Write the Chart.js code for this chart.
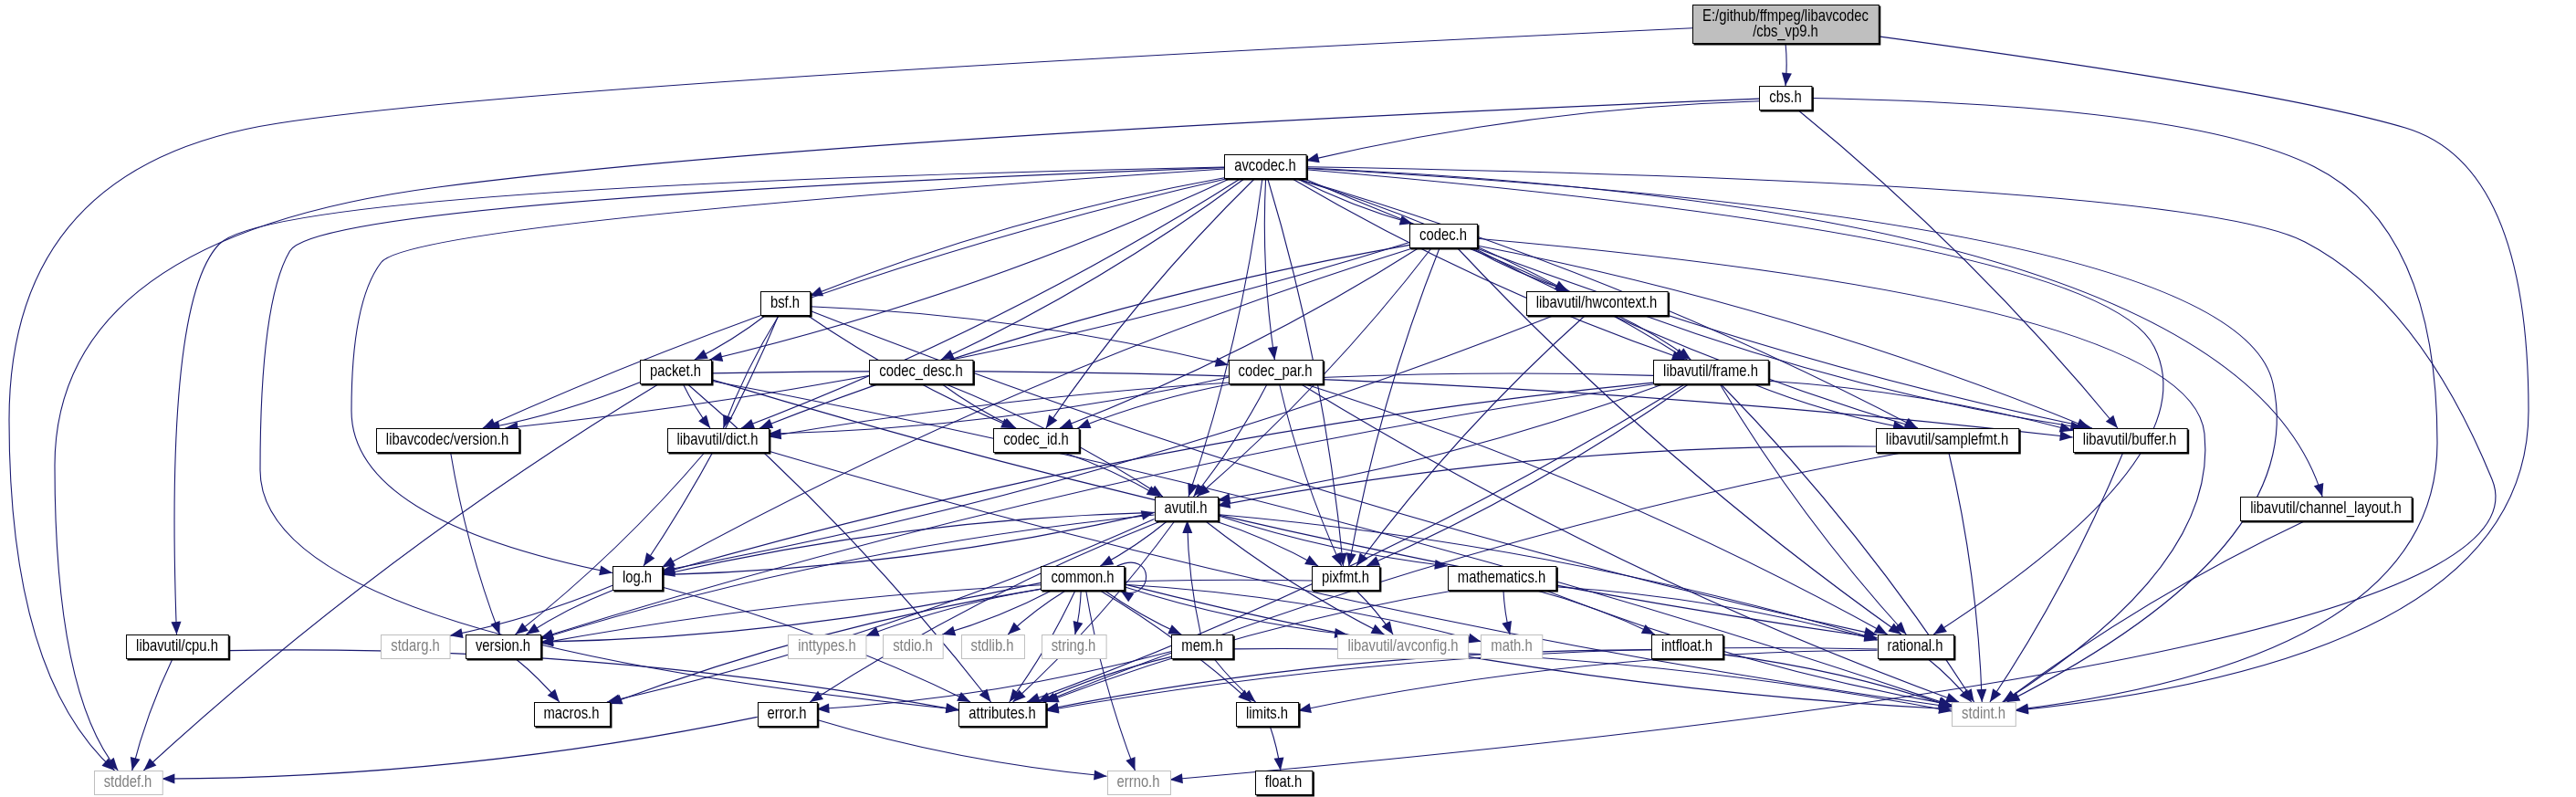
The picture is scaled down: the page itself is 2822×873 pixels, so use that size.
<!DOCTYPE html>
<html>
<head>
<meta charset="utf-8">
<script src="https://cdn.jsdelivr.net/npm/chart.js@4.4.1/dist/chart.umd.min.js"></script>
<style>
  html, body { margin: 0; padding: 0; background: #fff; }
  #graph { display: block; }
</style>
</head>
<body>
<canvas id="graph" width="2822" height="873"></canvas>
<script>
// ── Graph data ───────────────────────────────────────────
const ROOT = 'E:/github/ffmpeg/libavcodec\n/cbs_vp9.h';
const nodeNames = [
  ROOT, 'cbs.h', 'avcodec.h', 'codec.h', 'bsf.h',
  'libavutil/hwcontext.h', 'packet.h', 'codec_desc.h', 'codec_par.h', 'libavutil/frame.h',
  'libavcodec/version.h', 'libavutil/dict.h', 'codec_id.h', 'libavutil/samplefmt.h', 'libavutil/buffer.h',
  'avutil.h', 'libavutil/channel_layout.h', 'log.h', 'common.h', 'pixfmt.h',
  'mathematics.h', 'stdarg.h', 'version.h', 'libavutil/cpu.h', 'inttypes.h',
  'stdio.h', 'stdlib.h', 'string.h', 'mem.h', 'libavutil/avconfig.h',
  'math.h', 'intfloat.h', 'rational.h', 'macros.h', 'error.h',
  'attributes.h', 'limits.h', 'stdint.h', 'stddef.h', 'errno.h', 'float.h'
];
const nodeX = [
  1956, 1956, 1386, 1581, 860,
  1749, 740, 1009, 1397, 1874,
  490, 786, 1135, 2133, 2333,
  1299, 2548, 698, 1186, 1474,
  1645, 455, 551, 194, 906,
  1000, 1087, 1176, 1317, 1537,
  1656, 1848, 2098, 626, 862,
  1098, 1388, 2173, 140, 1247, 1406
];
const nodeY = [
  26, 107, 182, 258, 332,
  332, 407, 407, 407, 407,
  482, 482, 482, 482, 482,
  557, 557, 633, 633, 633,
  633, 708, 708, 708, 708,
  708, 708, 708, 708, 708,
  708, 708, 708, 782, 782,
  782, 782, 782, 857, 857, 857
];
const externalNodes = ['stdarg.h', 'inttypes.h', 'stdio.h', 'stdlib.h', 'string.h',
  'libavutil/avconfig.h', 'math.h', 'stdint.h', 'stddef.h', 'errno.h'];

const edgeFrom = [
  ROOT, ROOT, ROOT,
  'cbs.h', 'cbs.h', 'cbs.h', 'cbs.h',
  'avcodec.h', 'avcodec.h', 'avcodec.h', 'avcodec.h', 'avcodec.h', 'avcodec.h', 'avcodec.h', 'avcodec.h',
  'avcodec.h', 'avcodec.h', 'avcodec.h', 'avcodec.h', 'avcodec.h', 'avcodec.h', 'avcodec.h', 'avcodec.h',
  'avcodec.h', 'avcodec.h', 'avcodec.h', 'avcodec.h', 'avcodec.h',
  'codec.h', 'codec.h', 'codec.h', 'codec.h', 'codec.h', 'codec.h', 'codec.h', 'codec.h', 'codec.h', 'codec.h', 'codec.h', 'codec.h',
  'bsf.h', 'bsf.h', 'bsf.h', 'bsf.h', 'bsf.h', 'bsf.h',
  'libavutil/hwcontext.h', 'libavutil/hwcontext.h', 'libavutil/hwcontext.h', 'libavutil/hwcontext.h',
  'packet.h', 'packet.h', 'packet.h', 'packet.h', 'packet.h', 'packet.h', 'packet.h',
  'codec_desc.h', 'codec_desc.h',
  'codec_par.h', 'codec_par.h', 'codec_par.h', 'codec_par.h', 'codec_par.h', 'codec_par.h',
  'libavutil/frame.h', 'libavutil/frame.h', 'libavutil/frame.h', 'libavutil/frame.h', 'libavutil/frame.h',
  'libavutil/frame.h', 'libavutil/frame.h', 'libavutil/frame.h', 'libavutil/frame.h', 'libavutil/frame.h',
  'libavcodec/version.h', 'libavutil/dict.h', 'libavutil/dict.h', 'codec_id.h',
  'libavutil/samplefmt.h', 'libavutil/samplefmt.h', 'libavutil/samplefmt.h',
  'libavutil/buffer.h', 'libavutil/channel_layout.h',
  'avutil.h', 'avutil.h', 'avutil.h', 'avutil.h', 'avutil.h', 'avutil.h', 'avutil.h', 'avutil.h', 'avutil.h', 'avutil.h',
  'log.h', 'log.h', 'log.h', 'log.h',
  'common.h', 'common.h', 'common.h', 'common.h', 'common.h', 'common.h', 'common.h', 'common.h',
  'common.h', 'common.h', 'common.h', 'common.h', 'common.h', 'common.h',
  'mem.h', 'mem.h', 'mem.h', 'mem.h', 'mem.h',
  'pixfmt.h', 'pixfmt.h',
  'mathematics.h', 'mathematics.h', 'mathematics.h', 'mathematics.h', 'mathematics.h',
  'version.h', 'libavutil/cpu.h', 'libavutil/cpu.h', 'intfloat.h', 'intfloat.h',
  'rational.h', 'rational.h', 'rational.h', 'error.h', 'error.h', 'limits.h'
];
const edgeTo = [
  'cbs.h', 'stddef.h', 'stdint.h',
  'avcodec.h', 'stddef.h', 'stdint.h', 'libavutil/buffer.h',
  'errno.h', 'libavutil/channel_layout.h', 'attributes.h', 'libavutil/cpu.h', 'log.h', 'packet.h', 'bsf.h', 'libavutil/dict.h',
  'libavcodec/version.h', 'codec_desc.h', 'codec_id.h', 'avutil.h', 'codec_par.h', 'pixfmt.h', 'codec.h', 'libavutil/hwcontext.h',
  'libavutil/frame.h', 'libavutil/samplefmt.h', 'libavutil/buffer.h', 'rational.h', 'stdint.h',
  'libavcodec/version.h', 'log.h', 'avutil.h', 'pixfmt.h', 'codec_id.h', 'libavutil/hwcontext.h', 'libavutil/frame.h',
  'libavutil/samplefmt.h', 'libavutil/buffer.h', 'rational.h', 'stdint.h', 'libavutil/dict.h',
  'packet.h', 'libavutil/dict.h', 'log.h', 'codec_id.h', 'codec_par.h', 'rational.h',
  'libavutil/frame.h', 'libavutil/buffer.h', 'log.h', 'pixfmt.h',
  'libavcodec/version.h', 'libavutil/dict.h', 'attributes.h', 'stddef.h', 'libavutil/buffer.h', 'rational.h', 'stdint.h',
  'codec_id.h', 'avutil.h',
  'codec_id.h', 'avutil.h', 'pixfmt.h', 'rational.h', 'stdint.h', 'libavutil/dict.h',
  'libavutil/dict.h', 'avutil.h', 'log.h', 'pixfmt.h', 'libavutil/samplefmt.h',
  'libavutil/buffer.h', 'rational.h', 'stdint.h', 'version.h', 'attributes.h',
  'version.h', 'version.h', 'stdint.h', 'avutil.h',
  'avutil.h', 'stdint.h', 'attributes.h',
  'stdint.h', 'stdint.h',
  'common.h', 'log.h', 'pixfmt.h', 'mathematics.h', 'rational.h', 'version.h', 'macros.h', 'error.h', 'attributes.h', 'libavutil/avconfig.h',
  'stdarg.h', 'version.h', 'attributes.h', 'avutil.h',
  'common.h', 'inttypes.h', 'stdio.h', 'stdlib.h', 'string.h', 'mem.h', 'math.h', 'libavutil/avconfig.h',
  'attributes.h', 'macros.h', 'version.h', 'errno.h', 'limits.h', 'stdint.h',
  'avutil.h', 'attributes.h', 'error.h', 'limits.h', 'stdint.h',
  'version.h', 'libavutil/avconfig.h',
  'math.h', 'intfloat.h', 'attributes.h', 'rational.h', 'stdint.h',
  'macros.h', 'stddef.h', 'attributes.h', 'attributes.h', 'stdint.h',
  'attributes.h', 'stdint.h', 'limits.h', 'stddef.h', 'errno.h', 'float.h'
];

// long edges that run round the outside of the graph: edge key -> bend points
const edgeBends = {
  [ROOT + '>stddef.h']: [[600, 90], [10, 180], [10, 740]],
  [ROOT + '>stdint.h']: [[2500, 100], [2770, 180], [2770, 720]],
  'cbs.h>stddef.h': [[900, 150], [60, 260], [60, 760]],
  'cbs.h>stdint.h': [[2400, 115], [2670, 250], [2670, 720]],
  'avcodec.h>errno.h': [[2400, 200], [2650, 330], [2810, 720]],
  'avcodec.h>libavutil/channel_layout.h': [[2450, 230]],
  'avcodec.h>libavutil/cpu.h': [[300, 205], [180, 330]],
  'avcodec.h>attributes.h': [[350, 220], [285, 330], [285, 700]],
  'avcodec.h>log.h': [[450, 245], [385, 330], [385, 570]],
  'avcodec.h>rational.h': [[2300, 260], [2420, 500]],
  'avcodec.h>stdint.h': [[2450, 240], [2530, 600]],
  'codec.h>stdint.h': [[2400, 330], [2430, 620]],
  'libavutil/hwcontext.h>rational.h': [[2250, 390], [2220, 600]]
};

// ── Drawing ──────────────────────────────────────────────
const EDGE_COLOR = '#191970';
const FONT = '19px "Liberation Sans", Arimo, sans-serif';
const SQUEEZE = 0.78;           // narrow text like the Helvetica Narrow original
const BOX_H = 26;

const canvas = document.getElementById('graph');
const ctx0 = canvas.getContext('2d');
const measureCtx = document.createElement('canvas').getContext('2d');
function textWidth(s) {
  measureCtx.font = FONT;
  return measureCtx.measureText(s).width * SQUEEZE;
}
function boxWidth(name) {
  return Math.max(...name.split('\n').map(textWidth)) + 22;
}
function boxHeight(name) {
  return name.split('\n').length > 1 ? 42 : BOX_H;
}

function clipToBox(cx, cy, tx, ty, w, h) {
  const dx = tx - cx, dy = ty - cy;
  if (dx === 0 && dy === 0) return [cx, cy];
  const sx = dx !== 0 ? (w / 2) / Math.abs(dx) : Infinity;
  const sy = dy !== 0 ? (h / 2) / Math.abs(dy) : Infinity;
  const s = Math.min(sx, sy);
  return [cx + dx * s, cy + dy * s];
}

function drawArrow(ctx, fx, fy, tx, ty) {
  const ang = Math.atan2(ty - fy, tx - fx);
  const L = 14, W = 5.5;
  ctx.beginPath();
  ctx.moveTo(tx, ty);
  ctx.lineTo(tx - L * Math.cos(ang) + W * Math.sin(ang), ty - L * Math.sin(ang) - W * Math.cos(ang));
  ctx.lineTo(tx - L * Math.cos(ang) - W * Math.sin(ang), ty - L * Math.sin(ang) + W * Math.cos(ang));
  ctx.closePath();
  ctx.fillStyle = EDGE_COLOR;
  ctx.fill();
}

const graphPlugin = {
  id: 'includeGraph',
  afterDatasetsDraw(chart) {
    const { ctx, scales: { x, y } } = chart;
    const pos = {};
    nodeNames.forEach((n, i) => {
      pos[n] = { px: x.getPixelForValue(nodeX[i]), py: y.getPixelForValue(nodeY[i]),
                 w: boxWidth(n), h: boxHeight(n) };
    });

    ctx.save();
    ctx.strokeStyle = EDGE_COLOR;
    ctx.lineWidth = 1.1;

    edgeFrom.forEach((f, i) => {
      const t = edgeTo[i];
      const a = pos[f], b = pos[t];
      if (!a || !b) return;
      if (f === t) {
        const rx = a.px + a.w / 2;
        ctx.beginPath();
        ctx.moveTo(rx - 8, a.py - a.h / 2);
        ctx.bezierCurveTo(rx + 34, a.py - 32, rx + 34, a.py + 26, rx - 4, a.py + a.h / 2 + 2);
        ctx.stroke();
        drawArrow(ctx, rx + 8, a.py + 22, rx - 4, a.py + a.h / 2 + 1);
        return;
      }
      const bends = (edgeBends[f + '>' + t] || []).map(([bx, by]) =>
        [x.getPixelForValue(bx), y.getPixelForValue(by)]);
      const first = bends.length ? bends[0] : [b.px, b.py];
      const last = bends.length ? bends[bends.length - 1] : [a.px, a.py];
      const [sx, sy] = clipToBox(a.px, a.py, first[0], first[1], a.w, a.h);
      const [ex, ey] = clipToBox(b.px, b.py, last[0], last[1], b.w, b.h);

      ctx.beginPath();
      ctx.moveTo(sx, sy);
      let ctrl;
      if (bends.length) {
        const pts = [[sx, sy], ...bends, [ex, ey]];
        for (let k = 1; k < pts.length - 1; k++) {
          const mx = (pts[k][0] + pts[k + 1][0]) / 2, my = (pts[k][1] + pts[k + 1][1]) / 2;
          if (k === pts.length - 2) ctx.quadraticCurveTo(pts[k][0], pts[k][1], ex, ey);
          else ctx.quadraticCurveTo(pts[k][0], pts[k][1], mx, my);
        }
        ctrl = bends[bends.length - 1];
      } else {
        const len = Math.hypot(ex - sx, ey - sy);
        const bend = Math.min(50, len * 0.05) * (i % 2 ? 1 : -1);
        const mx = (sx + ex) / 2 - (ey - sy) / len * bend;
        const my = (sy + ey) / 2 + (ex - sx) / len * bend;
        ctx.quadraticCurveTo(mx, my, ex, ey);
        ctrl = [mx, my];
      }
      ctx.stroke();
      drawArrow(ctx, ctrl[0], ctrl[1], ex, ey);
    });

    // node boxes
    ctx.font = FONT;
    ctx.textAlign = 'center';
    ctx.textBaseline = 'middle';
    nodeNames.forEach((n, i) => {
      const p = pos[n];
      const left = Math.round(p.px - p.w / 2) + 0.5, top = Math.round(p.py - p.h / 2) + 0.5;
      const ext = externalNodes.includes(n);
      ctx.fillStyle = i === 0 ? '#bfbfbf' : '#ffffff';
      ctx.fillRect(left, top, p.w, p.h);
      ctx.lineWidth = 1;
      ctx.strokeStyle = ext ? '#bfbfbf' : '#000000';
      ctx.strokeRect(left, top, p.w, p.h);
      if (!ext) {
        ctx.lineWidth = 2;
        ctx.beginPath();
        ctx.moveTo(left + p.w + 1, top + 1);
        ctx.lineTo(left + p.w + 1, top + p.h + 1);
        ctx.lineTo(left + 1, top + p.h + 1);
        ctx.stroke();
      }
      ctx.fillStyle = ext ? '#808080' : '#000000';
      const lines = n.split('\n');
      lines.forEach((l, k) => {
        ctx.save();
        ctx.translate(p.px, p.py + (k - (lines.length - 1) / 2) * 17);
        ctx.scale(SQUEEZE, 1);
        ctx.fillText(l, 0, 0);
        ctx.restore();
      });
    });
    ctx.restore();
  }
};

new Chart(ctx0, {
  type: 'scatter',
  data: {
    datasets: [{
      data: nodeNames.map((n, i) => ({ x: nodeX[i], y: nodeY[i] })),
      pointRadius: 0
    }]
  },
  options: {
    responsive: false, animation: false, devicePixelRatio: 1,
    layout: { padding: 0 },
    plugins: { legend: { display: false }, tooltip: { enabled: false } },
    scales: {
      x: { type: 'linear', min: 0, max: 2822, display: false },
      y: { type: 'linear', min: 0, max: 873, reverse: true, display: false }
    }
  },
  plugins: [graphPlugin]
});
</script>
</body>
</html>
